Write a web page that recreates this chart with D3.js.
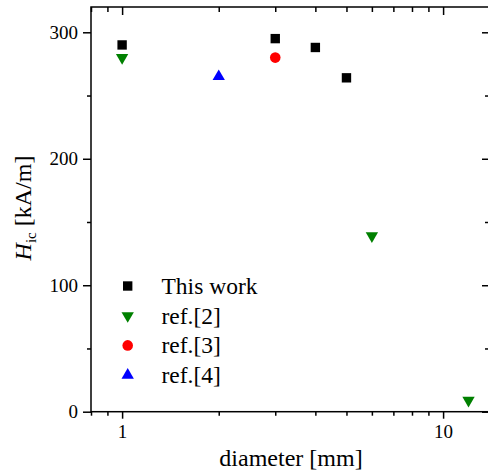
<!DOCTYPE html>
<html>
<head>
<meta charset="utf-8">
<script src="https://cdn.jsdelivr.net/npm/d3@7"></script>
<style>
	body { margin: 0; background: #fff; }
	svg { display: block; }
	svg text { font-family: "Liberation Serif", "Times New Roman", serif !important; }
	.axis path, .axis line { stroke: #000; }
</style>
</head>
<body>
<svg width="488" height="472"></svg>
<script>
// data
var thisWorkD = [1, 3, 4, 5],
	thisWorkH = [290, 295, 288, 264];
var ref2D = [1, 6, 12],
	ref2H = [280, 139, 9];
var ref3D = [3],
	ref3H = [280];
var ref4D = [2],
	ref4H = [265];
var xTicks = [1, 10],
	yTicks = [0, 100, 200, 300],
	yMinor = [50, 150, 250],
	legendLabels = ["This work", "ref.[2]", "ref.[3]", "ref.[4]"];

var svg = d3.select("svg"),
	plotL = 91, plotR = 490, plotT = 7, plotB = 411.7;

var x = d3.scaleLog().domain([0.8, 14]).range([plotL, plotR]);
var y = d3.scaleLinear().domain([0, 320]).range([plotB, plotT]);

var xMinor = [0.8, 0.9, 2, 3, 4, 5, 6, 7, 8, 9];

// frame
svg.append("rect")
	.attr("x", plotL).attr("y", plotT)
	.attr("width", plotR - plotL).attr("height", plotB - plotT)
	.attr("fill", "none").attr("stroke", "#000").attr("stroke-width", 1.5);

function tickFont(g) {
	g.select(".domain").remove();
	g.selectAll("text").attr("font-size", 19).attr("fill", "#000");
	g.selectAll("line").attr("stroke-width", 1.5);
}

// bottom axis
svg.append("g").attr("class", "axis").attr("transform", "translate(0," + plotB + ")")
	.call(d3.axisBottom(x).tickValues(xTicks).tickFormat(d3.format("d")).tickSize(7).tickPadding(6))
	.call(tickFont);
svg.append("g").attr("class", "axis").attr("transform", "translate(0," + plotB + ")")
	.call(d3.axisBottom(x).tickValues(xMinor).tickFormat("").tickSize(4))
	.call(tickFont);
// top axis, ticks inward
svg.append("g").attr("class", "axis").attr("transform", "translate(0," + plotT + ")")
	.call(d3.axisBottom(x).tickValues(xTicks).tickFormat("").tickSize(8))
	.call(tickFont);
svg.append("g").attr("class", "axis").attr("transform", "translate(0," + plotT + ")")
	.call(d3.axisBottom(x).tickValues(xMinor).tickFormat("").tickSize(5))
	.call(tickFont);
// left axis
svg.append("g").attr("class", "axis").attr("transform", "translate(" + plotL + ",0)")
	.call(d3.axisLeft(y).tickValues(yTicks).tickSize(8).tickPadding(5))
	.call(tickFont);
svg.append("g").attr("class", "axis").attr("transform", "translate(" + plotL + ",0)")
	.call(d3.axisLeft(y).tickValues(yMinor).tickFormat("").tickSize(4))
	.call(tickFont);
// right axis, ticks inward
svg.append("g").attr("class", "axis").attr("transform", "translate(" + plotR + ",0)")
	.call(d3.axisLeft(y).tickValues(yTicks).tickFormat("").tickSize(8))
	.call(tickFont);
svg.append("g").attr("class", "axis").attr("transform", "translate(" + plotR + ",0)")
	.call(d3.axisLeft(y).tickValues(yMinor).tickFormat("").tickSize(5))
	.call(tickFont);

// axis titles
svg.append("text")
	.attr("x", 291).attr("y", 466)
	.attr("text-anchor", "middle").attr("font-size", 24)
	.text("diameter [mm]");

var yt = svg.append("text")
	.attr("transform", "translate(31,208) rotate(-90)")
	.attr("text-anchor", "middle").attr("font-size", 24);
yt.append("tspan").attr("font-style", "italic").text("H");
yt.append("tspan").attr("font-size", 15).attr("dy", 5).text("ic");
yt.append("tspan").attr("dy", -5).text(" [kA/m]");

// markers
var sym = {
	square: d3.symbol().type(d3.symbolSquare).size(88),
	circle: d3.symbol().type(d3.symbolCircle).size(88),
	up: d3.symbol().type(d3.symbolTriangle).size(66)
};

function zip(xs, ys) { return xs.map(function (d, i) { return {d: d, h: ys[i]}; }); }

var series = [
	{pts: zip(thisWorkD, thisWorkH), path: sym.square(), color: "#000", rot: 0},
	{pts: zip(ref2D, ref2H), path: sym.up(), color: "#008000", rot: 180},
	{pts: zip(ref3D, ref3H), path: sym.circle(), color: "#ff0000", rot: 0},
	{pts: zip(ref4D, ref4H), path: sym.up(), color: "#0000ff", rot: 0}
];

series.forEach(function (s) {
	svg.selectAll(null)
		.data(s.pts)
		.enter()
		.append("path")
		.attr("d", s.path)
		.attr("fill", s.color)
		.attr("transform", function (p) {
			return "translate(" + x(p.d) + "," + y(p.h) + ") rotate(" + s.rot + ")";
		});
});

// legend
var leg = svg.append("g");
legendLabels.forEach(function (lab, i) {
	var ly = 286 + i * 29.7;
	leg.append("path")
		.attr("d", series[i].path)
		.attr("fill", series[i].color)
		.attr("transform", "translate(127.7," + ly + ") rotate(" + series[i].rot + ")");
	leg.append("text")
		.attr("x", 161.5).attr("y", ly + 8)
		.attr("font-size", 23.5)
		.text(lab);
});
</script>
</body>
</html>
